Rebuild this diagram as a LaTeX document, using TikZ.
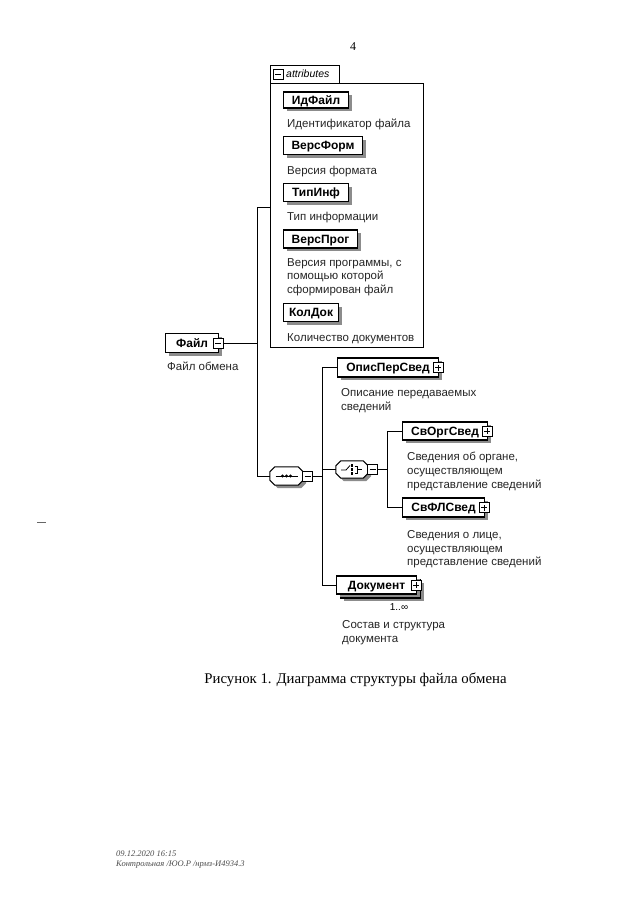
\documentclass[tikz,border=0pt]{standalone}
\usepackage{fontspec}
\setmainfont{Liberation Serif}
\setsansfont{Liberation Sans}
\usetikzlibrary{shadows}
\newcommand{\chpath}[3]{%
([xshift=#2+5pt,yshift=#3]#1.north west) -- ([xshift=#2-5pt,yshift=#3]#1.north east) -- ([xshift=#2,yshift=#3-5pt]#1.north east) -- ([xshift=#2,yshift=#3+5pt]#1.south east) -- ([xshift=#2-5pt,yshift=#3]#1.south east) -- ([xshift=#2+5pt,yshift=#3]#1.south west) -- ([xshift=#2,yshift=#3+5pt]#1.south west) -- ([xshift=#2,yshift=#3-5pt]#1.north west) -- cycle}
\newcommand{\sqminus}[2]{\node[sq] (#1) at (#2) {};\draw[line width=0.7pt] ([xshift=-3pt]#1.center) -- ([xshift=3pt]#1.center);}
\newcommand{\sqplus}[2]{\node[sq] (#1) at (#2) {};\draw[line width=0.7pt] ([xshift=-3pt]#1.center) -- ([xshift=3pt]#1.center) ([yshift=-3pt]#1.center) -- ([yshift=3pt]#1.center);}
\begin{document}
\begin{tikzpicture}[x=1pt,y=-1pt,
  elem/.style={draw=black,line width=1.1pt,fill=white,font=\sffamily\bfseries\fontsize{12}{13}\selectfont,inner sep=0pt,minimum height=18,anchor=west,text height=8.6pt,text depth=0pt,
    drop shadow={shadow xshift=3pt,shadow yshift=-3pt,fill=black!45,opacity=1}},
  desc/.style={font=\sffamily\fontsize{11.5}{13.8}\selectfont,text=black!85,align=left,anchor=north west,inner sep=0pt},
  sq/.style={draw,line width=0.8pt,fill=white,minimum size=10,inner sep=0pt},
  conn/.style={line width=0.9pt},
  comp/.style={inner sep=0pt}]
\fill[white] (0,0) rectangle (640,905);
\useasboundingbox (0,0) rectangle (640,905);

\node[font=\fontsize{12}{14}\selectfont] (pnum) at (353,47) {4};

% attributes container
\node[draw,line width=0.9pt,minimum width=153,minimum height=264,anchor=north west,inner sep=0pt] (attrbox) at (270,83) {};
\draw[line width=0.9pt] (attrbox.north west) -- (270,65) -- (339,65) -- (339,83);
\sqminus{tabsq}{278,74}
\node[font=\sffamily\itshape\fontsize{10.5}{12}\selectfont,anchor=west,inner sep=0pt] (attrlbl) at (286,74) {attributes};

\node[elem,minimum width=65,minimum height=16] (idf) at (283,100) {ИдФайл};
\node[desc] (idfd) at (287,119) {Идентификатор файла};
\node[elem,minimum width=79] (vf) at (283,145.5) {ВерсФорм};
\node[desc] (vfd) at (287,166) {Версия формата};
\node[elem,minimum width=65] (ti) at (283,192.5) {ТипИнф};
\node[desc] (tid) at (287,212) {Тип информации};
\node[elem,minimum width=74] (vp) at (283,239) {ВерсПрог};
\node[desc] (vpd) at (287,258) {Версия программы, с\\помощью которой\\сформирован файл};
\node[elem,minimum width=55] (kd) at (283,312.5) {КолДок};
\node[desc] (kdd) at (287,333) {Количество документов};

% root
\node[elem,minimum width=53,minimum height=19] (file) at (165,343) {Файл\hspace{6pt}};
\sqminus{fsq}{218,343}
\node[desc] (filed) at (167,361.5) {Файл обмена};

% sequence
\node[comp,minimum width=33,minimum height=18] (seq) at (286.5,476) {};
\fill[black!45] \chpath{seq}{3pt}{-3pt};
\draw[fill=white,line width=1pt] \chpath{seq}{0pt}{0pt};
\draw[line width=0.8pt] ([xshift=-11pt]seq.center) -- ([xshift=11pt]seq.center);
\foreach \d in {-4,0,4} \fill ([xshift=\d pt]seq.center) circle (1.6);
\sqminus{seqsq}{307.5,476}

\coordinate (tA) at (257,207);
\draw[conn] (attrbox.west |- tA) -- (tA) -- (tA |- seq.west) -- (seq.west);
\draw[conn] (fsq.east) -- (tA |- fsq.east);

% children of sequence
\node[elem,minimum width=101,minimum height=19] (opis) at (337,367.5) {ОписПерСвед\hspace{8pt}};
\sqplus{opsq}{438,367.5}
\node[desc] (opisd) at (341,388) {Описание передаваемых\\сведений};

\node[comp,minimum width=32,minimum height=17] (choice) at (352,469.5) {};
\fill[black!45] \chpath{choice}{3pt}{-3pt};
\draw[fill=white,line width=1pt] \chpath{choice}{0pt}{0pt};
\begin{scope}[shift={(choice.center)},line width=0.8pt]
  \draw (-11,0.5) -- (-6,0.5) -- (-2,-4);
  \foreach \d in {-4,0,4} \fill (0,\d) ++(-1.4,-1.4) rectangle ++(2.8,2.8);
  \draw (2.5,-3.5) -- (5.5,-3.5) -- (5.5,3.5) -- (2.5,3.5);
  \draw (5.5,0) -- (10,0);
\end{scope}
\sqminus{chsq}{372.5,469.5}

\node[elem,minimum width=80] (dokback) at (340,589) {};
\node[elem,minimum width=80] (dok) at (336,585) {Документ\hspace{8pt}};
\sqplus{dksq}{416,585}
\node[font=\sffamily\fontsize{10}{11}\selectfont,inner sep=0pt] (dokmult) at (399,607) {1..∞};
\node[desc] (dokd) at (342,620) {Состав и структура\\документа};

\coordinate (tB) at (322,0);
\draw[conn] (seqsq.east) -- (tB |- seqsq.east);
\draw[conn] (opis.west) -- (tB |- opis.west) -- (tB |- dok.west) -- (dok.west);
\draw[conn] (tB |- choice.west) -- (choice.west);

% children of choice
\node[elem,minimum width=85] (org) at (402,431) {СвОргСвед\hspace{8pt}};
\sqplus{orgsq}{487,431}
\node[desc] (orgd) at (407,452) {Сведения об органе,\\осуществляющем\\представление сведений};
\node[elem,minimum width=82,minimum height=19] (fl) at (402,507.5) {СвФЛСвед\hspace{8pt}};
\sqplus{flsq}{484,507.5}
\node[desc] (fld) at (407,530) {Сведения о лице,\\осуществляющем\\представление сведений};

\coordinate (tC) at (387,0);
\draw[conn] (chsq.east) -- (tC |- chsq.east);
\draw[conn] (org.west) -- (tC |- org.west) -- (tC |- fl.west) -- (fl.west);

% caption and footer
\node[font=\fontsize{14.8}{17}\selectfont] (cap) at (355.5,680) {Рисунок 1. Диаграмма структуры файла обмена};
\node[font=\itshape\fontsize{8.5}{10}\selectfont,text=black!70,align=left,anchor=north west,inner sep=0pt] (foot) at (116,851) {09.12.2020 16:15\\Контрольная /ЮО.Р /нрмз-И4934.3};
\draw[black!60,line width=0.6pt] (37,522) -- (46,522);
\end{tikzpicture}
\end{document}
